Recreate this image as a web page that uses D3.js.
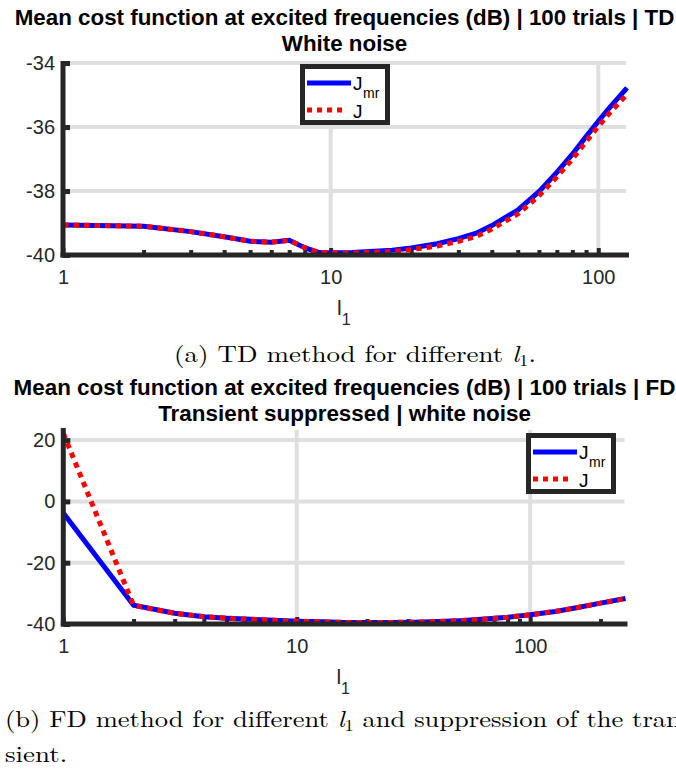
<!DOCTYPE html>
<html>
<head>
<meta charset="utf-8">
<script src="https://cdn.jsdelivr.net/npm/d3@7"></script>
<style>
    body { margin: 0; background: #fff; overflow: hidden; }
    svg { display: block; }
</style>
</head>
<body>
<div id="chart"></div>
<script>
"use strict";

// TD method, different l1
const tdL = [1, 2, 3, 4, 5, 6, 7, 8, 9, 10, 12, 14, 17, 20, 25, 30, 35, 40, 50, 60, 70, 80, 90, 100, 110, 128];
const tdJmr = [-39.06, -39.10, -39.27, -39.43, -39.57, -39.60, -39.54, -39.77, -39.92, -39.93, -39.92, -39.89, -39.85,
    -39.78, -39.65, -39.49, -39.32, -39.08, -38.60, -38.02, -37.42, -36.85, -36.30, -35.82, -35.40, -34.78];
const tdJ = [-39.06, -39.10, -39.27, -39.43, -39.57, -39.60, -39.54, -39.77, -39.92, -39.93, -39.94, -39.92, -39.89,
    -39.83, -39.72, -39.57, -39.42, -39.19, -38.72, -38.15, -37.56, -37.00, -36.46, -35.98, -35.57, -34.98];

// FD method, transient suppressed
const fdL = [1, 2, 3, 4, 5, 6, 8, 10, 13, 16, 20, 25, 32, 40, 50, 64, 80, 100, 128, 160, 200, 256];
const fdJmr = [-3.8, -33.9, -36.5, -37.6, -38.1, -38.4, -38.8, -39.1, -39.3, -39.5, -39.5, -39.5, -39.4, -39.2,
    -38.9, -38.4, -37.8, -37.0, -35.9, -34.6, -33.2, -31.7];
const fdJ = [22.2, -33.9, -36.5, -37.6, -38.1, -38.4, -38.8, -39.1, -39.3, -39.5, -39.5, -39.5, -39.4, -39.2,
    -38.9, -38.4, -37.8, -37.0, -35.9, -34.6, -33.2, -31.7];

const tdYTicks = [-40, -38, -36, -34];
const fdYTicks = [-40, -20, 0, 20];
const xMajorTicks = [1, 10, 100];

const tdTitle = ["Mean cost function at excited frequencies (dB) | 100 trials | TD", "White noise"];
const fdTitle = ["Mean cost function at excited frequencies (dB) | 100 trials | FD", "Transient suppressed | white noise"];

const axisColor = "#262626";
const gridColor = "#dfdfdf";

// picks the first installed font of a list (compares against monospace fallback)
function pickFont(names, fallback) {
    let ctx = document.createElement("canvas").getContext("2d");
    let probe = "mmmmmlllliiiWWW 0123456789";
    ctx.font = "40px monospace";
    let base = ctx.measureText(probe).width;
    for (let k = 0; k < names.length; k++) {
        ctx.font = `40px "${names[k]}", monospace`;
        if (Math.abs(ctx.measureText(probe).width - base) > 0.5) return `"${names[k]}"`;
    }
    return fallback;
}

const sansFont = pickFont(["Liberation Sans", "Arimo", "Helvetica", "Arial", "Roboto"], "sans-serif");
const serifFont = pickFont(["Latin Modern Roman", "CMU Serif", "Liberation Serif", "Tinos", "Times New Roman", "Times"], "serif");

let svg = d3.select("#chart").append("svg")
    .attr("width", 676)
    .attr("height", 769);

// minor ticks of a log axis (2..9 per decade)
function minorTicks(maxL) {
    let ticks = [];
    for (let dec = 1; dec <= maxL; dec *= 10) {
        for (let k = 2; k <= 9; k++) {
            if (dec * k < maxL) ticks.push(dec * k);
        }
    }
    return ticks;
}

// title with two bold lines, squeezed to the measured width
function drawTitle(lines, y0, width) {
    let g = svg.append("g");
    let t1 = g.append("text")
        .attr("x", 0).attr("y", y0)
        .attr("text-anchor", "middle")
        .style("font-family", sansFont)
        .style("font-weight", "bold")
        .style("font-size", "21.5px")
        .text(lines[0]);
    let sx = width / t1.node().getComputedTextLength();
    g.append("text")
        .attr("x", 0).attr("y", y0 + 26)
        .attr("text-anchor", "middle")
        .style("font-family", sansFont)
        .style("font-weight", "bold")
        .style("font-size", "21.5px")
        .text(lines[1]);
    g.attr("transform", `translate(344.5,0) scale(${sx},1)`);
}

function drawPanel(cfg) {
    let x = d3.scaleLog().domain([1, cfg.xMax]).range([cfg.left, cfg.right]);
    let y = d3.scaleLinear().domain(cfg.yDomain).range([cfg.bottom, cfg.top]);

    let g = svg.append("g");

    // grid
    g.selectAll(".hgrid")
        .data(cfg.yTicks.filter(d => d !== cfg.yDomain[0]))
        .enter().append("line")
        .attr("x1", cfg.left).attr("x2", cfg.right - 1)
        .attr("y1", d => y(d)).attr("y2", d => y(d))
        .style("stroke", gridColor).style("stroke-width", 4);
    g.selectAll(".vgrid")
        .data([10, 100])
        .enter().append("line")
        .attr("x1", d => x(d)).attr("x2", d => x(d))
        .attr("y1", cfg.top).attr("y2", cfg.bottom)
        .style("stroke", gridColor).style("stroke-width", 4);

    // x axis (major)
    let xAxis = d3.axisBottom(x)
        .tickValues(xMajorTicks)
        .tickFormat(d => String(d))
        .tickSizeInner(-7)
        .tickSizeOuter(0)
        .tickPadding(15);
    let gx = g.append("g")
        .attr("transform", `translate(0,${cfg.bottom})`)
        .call(xAxis);
    gx.select(".domain").remove();
    gx.selectAll(".tick line").style("stroke", axisColor).style("stroke-width", 4);
    gx.selectAll(".tick text")
        .style("font-family", sansFont)
        .style("font-size", "20px")
        .style("fill", axisColor);

    // x axis (minor)
    let gm = g.append("g")
        .attr("transform", `translate(0,${cfg.bottom})`)
        .call(d3.axisBottom(x).tickValues(minorTicks(cfg.xMax)).tickSizeInner(-5).tickSizeOuter(0).tickFormat(""));
    gm.select(".domain").remove();
    gm.selectAll(".tick line").style("stroke", axisColor).style("stroke-width", 4);

    // y axis
    let yAxis = d3.axisLeft(y)
        .tickValues(cfg.yTicks)
        .tickFormat(d => String(d))
        .tickSizeInner(-7)
        .tickSizeOuter(0)
        .tickPadding(8);
    let gy = g.append("g")
        .attr("transform", `translate(${cfg.left},0)`)
        .call(yAxis);
    gy.select(".domain").remove();
    gy.selectAll(".tick line").style("stroke", axisColor).style("stroke-width", 5);
    gy.selectAll(".tick text")
        .style("font-family", sansFont)
        .style("font-size", "20px")
        .style("fill", axisColor);

    // curves
    let line = d3.line()
        .x(d => x(d[0]))
        .y(d => y(d[1]));

    g.append("path")
        .datum(cfg.l.map((d, i) => [d, cfg.jmr[i]]))
        .attr("d", line)
        .style("fill", "none")
        .style("stroke", "#0000ff")
        .style("stroke-width", 5);

    g.append("path")
        .datum(cfg.l.map((d, i) => [d, cfg.j[i]]))
        .attr("d", line)
        .style("fill", "none")
        .style("stroke", "#ff0000")
        .style("stroke-width", 5)
        .style("stroke-dasharray", "5.5,5");

    // axis lines on top
    g.append("line")
        .attr("x1", cfg.left).attr("x2", cfg.left)
        .attr("y1", cfg.top - 2).attr("y2", cfg.bottom + 2.5)
        .style("stroke", axisColor).style("stroke-width", 5);
    g.append("line")
        .attr("x1", cfg.left - 2.5).attr("x2", cfg.right + 2)
        .attr("y1", cfg.bottom).attr("y2", cfg.bottom)
        .style("stroke", axisColor).style("stroke-width", 5);

    // x label
    let lab = g.append("text")
        .attr("x", (cfg.left + cfg.right) / 2 - 8)
        .attr("y", cfg.bottom + 60)
        .style("font-family", sansFont)
        .style("font-size", "21px")
        .style("fill", axisColor);
    lab.append("tspan").text("l");
    lab.append("tspan").attr("dy", 10).style("font-size", "16px").text("1");

    // legend
    let lg = g.append("g").attr("transform", `translate(${cfg.legendX},${cfg.legendY})`);
    lg.append("rect")
        .attr("x", 2.5).attr("y", 2.5)
        .attr("width", 85).attr("height", 56)
        .style("fill", "#fff")
        .style("stroke", axisColor)
        .style("stroke-width", 5);
    lg.append("line")
        .attr("x1", 7).attr("x2", 51).attr("y1", 19).attr("y2", 19)
        .style("stroke", "#0000ff").style("stroke-width", 5);
    lg.append("line")
        .attr("x1", 7).attr("x2", 47).attr("y1", 46).attr("y2", 46)
        .style("stroke", "#ff0000").style("stroke-width", 5)
        .style("stroke-dasharray", "5,5");
    let legendText = [
        { x: 53, y: 26, size: 19, text: "J" },
        { x: 63, y: 34, size: 14, text: "mr" },
        { x: 53, y: 54, size: 19, text: "J" }
    ];
    lg.selectAll(".legend-text")
        .data(legendText)
        .enter().append("text")
        .attr("x", d => d.x).attr("y", d => d.y)
        .style("font-family", sansFont)
        .style("font-size", d => `${d.size}px`)
        .style("fill", "#000")
        .text(d => d.text);
}

// caption in serif font, horizontally scaled by a shared factor
function drawCaption(parts, x, y, anchor, sx) {
    let t = svg.append("text")
        .attr("x", 0).attr("y", 0)
        .attr("text-anchor", anchor)
        .attr("transform", `translate(${x},${y}) scale(${sx},1)`)
        .style("font-family", serifFont)
        .style("font-size", "23px")
        .style("fill", "#000");
    parts.forEach(p => {
        let s = t.append("tspan").text(p.text);
        if (p.italic) s.style("font-style", "italic");
        if (p.sub) s.attr("dy", 4).style("font-size", "16px");
        if (p.unsub) s.attr("dy", -4);
    });
    return t;
}

drawTitle(tdTitle, 25, 660);
drawPanel({
    l: tdL, jmr: tdJmr, j: tdJ,
    xMax: 128, yDomain: [-40, -34], yTicks: tdYTicks,
    left: 63, right: 627, top: 63, bottom: 255,
    legendX: 300, legendY: 64
});

let capA = drawCaption([
    { text: "(a) TD method for different " },
    { text: "l", italic: true },
    { text: "1", sub: true },
    { text: ".", unsub: true }
], 355, 362, "middle", 1);
let capScale = 362 / capA.node().getBBox().width;
capA.attr("transform", `translate(355,362) scale(${capScale},1)`);

drawTitle(fdTitle, 395, 662);
drawPanel({
    l: fdL, jmr: fdJmr, j: fdJ,
    xMax: 256, yDomain: [-40, 23.3], yTicks: fdYTicks,
    left: 63.3, right: 625.5, top: 430, bottom: 624,
    legendX: 526, legendY: 433
});

drawCaption([
    { text: "(b) FD method for different " },
    { text: "l", italic: true },
    { text: "1", sub: true },
    { text: " and suppression of the tran-", unsub: true }
], 5, 727, "start", capScale * 0.985);
drawCaption([{ text: "sient." }], 5, 762, "start", capScale);
</script>
</body>
</html>
